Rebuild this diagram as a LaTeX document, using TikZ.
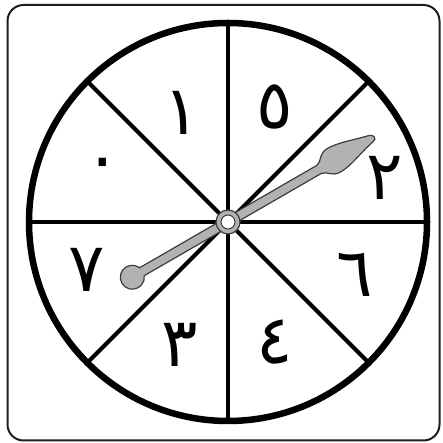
\documentclass[tikz,border=0pt]{standalone}
\usepackage{fontspec}
\newfontfamily\arabicfont[Script=Arabic]{DejaVu Sans}
\TeXXeTstate=1
\usepackage{tikz}
\definecolor{needle}{RGB}{178,178,180}
\definecolor{rim}{RGB}{30,30,30}
\definecolor{edge}{RGB}{60,60,60}

\begin{document}
\begin{tikzpicture}[
    x=1pt, y=1pt,
    frame/.style={draw=rim, line width=2pt, rounded corners=16pt},
    wheel/.style={draw=black, line width=6.5pt},
    divider/.style={draw=black, line width=4pt},
    digit/.style={inner sep=0pt, font=\arabicfont\fontsize{68}{68}\selectfont},
    pointer/.style={fill=needle, draw=edge, line width=1.2pt, line join=round}
]
\useasboundingbox (0,0) rectangle (442,443);

% Frame and wheel
\draw[frame] (7.5,2.5) rectangle (439.5,438);
\coordinate (hub) at (228,221);
\foreach \a in {0,45,...,315}
    \draw[divider] (hub) -- ++(\a:199);
\draw[wheel] (hub) circle[radius=199];

% Numbers
\foreach \n/\x/\y/\d in {one/182/330/١, five/275/336/٥, two/385/265/٢, six/355/168/٦,
                         four/275/101/٤, three/180/98/٣, seven/87/173/٧, zero/103/273/٠}
    \node[digit] (\n) at (\x,\y) {\beginR\d\endR};

% Spinner
\begin{scope}[shift={(hub)}, rotate=30]
\draw[pointer] (-99.4,-4.6) arc[start angle=-22.5, end angle=-337.5, radius=12]
    -- (105,4.6) .. controls (112,5.5) and (112,14) .. (123,14)
    .. controls (135,14) and (150,8) .. (165,4.5)
    .. controls (170,3.5) and (171,-2.5) .. (166,-3)
    .. controls (150,-6) and (135,-13) .. (123,-13)
    .. controls (112,-13) and (112,-5.5) .. (105,-4.6) -- cycle;
\end{scope}
\draw[pointer] (hub) circle[radius=12];
\draw[fill=white, draw=edge, line width=1pt] (hub) circle[radius=7];

\end{tikzpicture}
\end{document}
